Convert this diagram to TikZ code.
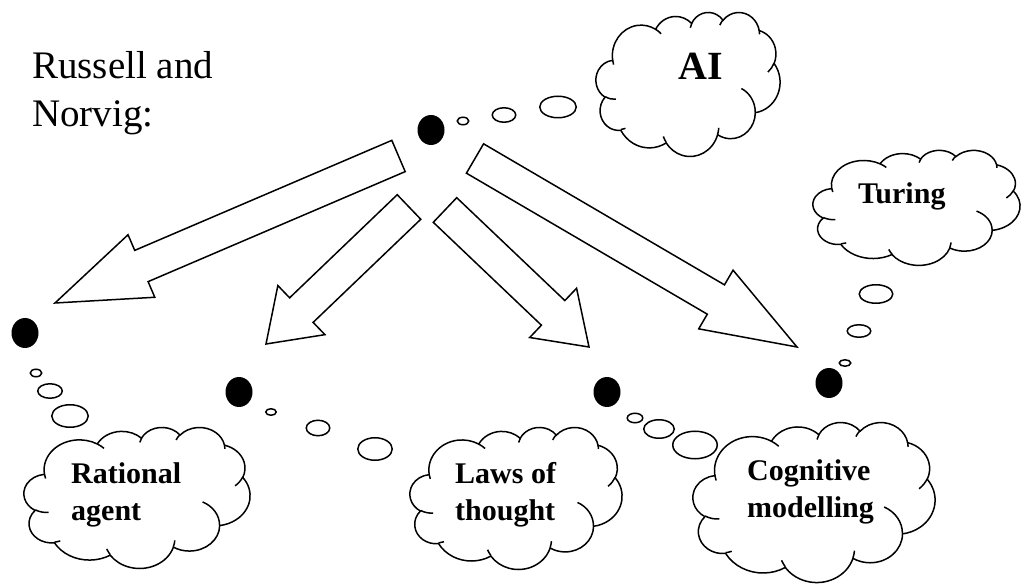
\documentclass[tikz,border=0pt]{standalone}
\usepackage{fontspec}
\setmainfont{Liberation Serif}
\usetikzlibrary{calc,shapes.geometric}

% block arrow: start, tip, head length
\newcommand{\bigarrow}[3]{%
  \draw[blockarrow] ($(#1)!17pt!90:(#2)$) -- ($(#2)!#3!(#1)!17pt!-90:(#1)$)
    -- ($(#2)!#3!(#1)!34pt!-90:(#1)$) -- (#2)
    -- ($(#2)!#3!(#1)!34pt!90:(#1)$) -- ($(#2)!#3!(#1)!17pt!90:(#1)$)
    -- ($(#1)!17pt!-90:(#2)$) -- cycle;}

% thought cloud: left, top, width, height
\newcommand{\thoughtcloud}[4]{%
  \begin{scope}[shift={(#1,#2)}, xscale=#3/432, yscale=#4/432]
    \draw[cloudline, fill=white] (39,143.7)
      arc[start angle=-187.75, end angle=-59.64, x radius=67.53, y radius=91.90]
      arc[start angle=-152.03, end angle=-45.45, x radius=53.33, y radius=72.67]
      arc[start angle=-153.49, end angle=-37.32, x radius=43.65, y radius=59.45]
      arc[start angle=-139.71, end angle=-10.21, x radius=48.57, y radius=65.95]
      arc[start angle=-74.77, end angle=23.23, x radius=53.33, y radius=72.73]
      arc[start angle=-37.53, end angle=81.86, x radius=67.75, y radius=92.20]
      arc[start angle=0.46, end angle=122.0, x radius=57.85, y radius=78.67]
      arc[start angle=16.88, end angle=146.15, x radius=67.52, y radius=92.15]
      arc[start angle=59.05, end angle=150.13, x radius=77.20, y radius=105.43]
      arc[start angle=83.29, end angle=223.03, x radius=43.60, y radius=59.18]
      arc[start angle=120.23, end angle=264.14, x radius=43.45, y radius=59.45]
      -- cycle;
    \draw[cloudline]
      (46.93,261.77) arc[start angle=85.54, end angle=120.3, x radius=43.45, y radius=59.45]
      (69.28,348.99) arc[start angle=68.24, end angle=83.31, x radius=43.60, y radius=59.18]
      (164.78,390.90) arc[start angle=146.23, end angle=158.47, x radius=67.52, y radius=92.15]
      (288.27,347.51) arc[start angle=4.74, end angle=16.88, x radius=67.52, y radius=92.15]
      (341.29,229.54) arc[start angle=-64.03, end angle=0.46, x radius=57.85, y radius=78.67]
      (417.98,153.54) arc[start angle=23.23, end angle=49.64, x radius=53.33, y radius=72.73]
      (383.24,54.26) arc[start angle=-10.21, end angle=0.82, x radius=48.57, y radius=65.95]
      (290.78,39.52) arc[start angle=-156.29, end angle=-139.71, x radius=48.57, y radius=65.95]
      (221.41,47.20) arc[start angle=-167.73, end angle=-153.49, x radius=43.65, y radius=59.45]
      (140.00,51.92) arc[start angle=-59.64, end angle=-45.72, x radius=67.53, y radius=91.90]
      (41.27,157.89) arc[start angle=163.19, end angle=172.25, x radius=67.53, y radius=91.90];
  \end{scope}}

\begin{document}
\begin{tikzpicture}[x=1pt, y=-1pt,
    blob/.style={ellipse, fill=black, inner sep=0pt, minimum width=27pt, minimum height=30pt},
    bubble/.style={ellipse, draw=black, line width=1.5pt, inner sep=0pt},
    blockarrow/.style={draw=black, fill=white, line width=1.5pt, line join=miter},
    cloudline/.style={draw=black, line width=1.5pt},
    authors/.style={font=\fontsize{39}{48}\selectfont, align=left, inner sep=0pt},
    cloudtext/.style={font=\bfseries\fontsize{30}{37}\selectfont, align=left, inner sep=0pt}]
  \useasboundingbox (0,0) rectangle (1021,585);

  \node[authors, anchor=base west] (rn) at (32,127) {Russell and\\Norvig:};

  % clouds
  \thoughtcloud{596}{12}{184}{144}
  \thoughtcloud{813}{150}{207}{115}
  \thoughtcloud{24}{427}{226}{141}
  \thoughtcloud{410}{427}{212}{142}
  \thoughtcloud{693}{422}{242}{160}

  \node[cloudtext, font=\bfseries\fontsize{40}{48}\selectfont, anchor=base] (ai) at (701,80) {AI};
  \node[cloudtext, anchor=base west] (turing) at (858,204) {Turing};
  \node[cloudtext, anchor=base west] (rational) at (71,520) {Rational\\agent};
  \node[cloudtext, anchor=base west] (laws) at (455,520) {Laws of\\thought};
  \node[cloudtext, anchor=base west] (cognitive) at (747,518) {Cognitive\\modelling};

  % dots
  \node[blob] (dai) at (431,130) {};
  \node[blob] (drat) at (25,333) {};
  \node[blob] (dlaw) at (239,392) {};
  \node[blob] (dcog) at (607,392) {};
  \node[blob] (dtur) at (829,383) {};

  % thought bubbles
  \node[bubble, minimum width=11.5pt, minimum height=7.5pt] (ai1) at (463,121) {};
  \node[bubble, minimum width=23.5pt, minimum height=14.5pt] (ai2) at (504,115) {};
  \node[bubble, minimum width=36.5pt, minimum height=21.5pt] (ai3) at (558,107) {};

  \node[bubble, minimum width=11.5pt, minimum height=7.5pt] (rat1) at (36,373) {};
  \node[bubble, minimum width=24.5pt, minimum height=14.5pt] (rat2) at (50,391) {};
  \node[bubble, minimum width=36.5pt, minimum height=22.5pt] (rat3) at (70,416) {};

  \node[bubble, minimum width=10.5pt, minimum height=6.5pt] (law1) at (271,412) {};
  \node[bubble, minimum width=23.5pt, minimum height=15.5pt] (law2) at (318,428) {};
  \node[bubble, minimum width=34.5pt, minimum height=22.5pt] (law3) at (375,449) {};

  \node[bubble, minimum width=15.5pt, minimum height=9.5pt] (cog1) at (635,418) {};
  \node[bubble, minimum width=30.5pt, minimum height=18.5pt] (cog2) at (659,429) {};
  \node[bubble, minimum width=44.5pt, minimum height=27.5pt] (cog3) at (695,445) {};

  \node[bubble, minimum width=11.5pt, minimum height=6.5pt] (tur1) at (845,363) {};
  \node[bubble, minimum width=23.5pt, minimum height=12.5pt] (tur2) at (859,331) {};
  \node[bubble, minimum width=33.5pt, minimum height=18.5pt] (tur3) at (876,294) {};

  % arrows
  \coordinate (s1) at (398.5,156);
  \coordinate (e1) at (55,303);
  \coordinate (s2) at (409,207);
  \coordinate (e2) at (266,344);
  \coordinate (s3) at (445,210);
  \coordinate (e3) at (589,347);
  \coordinate (s4) at (475,158.5);
  \coordinate (e4) at (797,347);

  \bigarrow{s1}{e1}{94pt}
  \bigarrow{s2}{e2}{49pt}
  \bigarrow{s3}{e3}{49.5pt}
  \bigarrow{s4}{e4}{94pt}
\end{tikzpicture}
\end{document}
